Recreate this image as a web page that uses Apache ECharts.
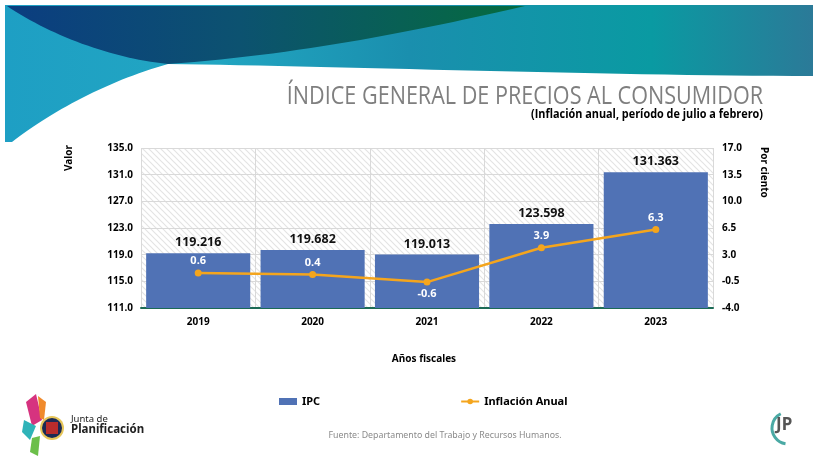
<!DOCTYPE html>
<html>
<head>
<meta charset="utf-8">
<script src="https://cdn.jsdelivr.net/npm/echarts@6/dist/echarts.min.js"></script>
<style>
  html, body { margin: 0; padding: 0; background: #fff; }
  #main { width: 813px; height: 459px; }
</style>
</head>
<body>
<div id="main"></div>
<script>
// datos del grafico
var years = ['2019', '2020', '2021', '2022', '2023'];
var ipc = [119.216, 119.682, 119.013, 123.598, 131.363];
var inflacion = [0.6, 0.4, -0.6, 3.9, 6.3];

var font = "'Noto Sans', 'DejaVu Sans', sans-serif";
var narrow = "'Liberation Sans Narrow', 'Open Sans', sans-serif";

function grad(stops) {
  return { type: 'linear', x: 0, y: 0, x2: 1, y2: 0, colorStops: stops };
}

// curva bezier cubica -> lista de puntos (para las franjas decorativas)
function bez(p0, p1, p2, p3) {
  var out = [];
  for (var i = 0; i <= 30; i++) {
    var t = i / 30, u = 1 - t;
    out.push([
      u * u * u * p0[0] + 3 * u * u * t * p1[0] + 3 * u * t * t * p2[0] + t * t * t * p3[0],
      u * u * u * p0[1] + 3 * u * u * t * p1[1] + 3 * u * t * t * p2[1] + t * t * t * p3[1]
    ]);
  }
  return out;
}

var tealPts = [[5, 5], [813, 5]]
  .concat(bez([813, 76], [620, 76], [330, 66], [168, 64]))
  .concat(bez([168, 64], [110, 80], [50, 112], [12, 142]))
  .concat([[5, 142]]);
var darkPts = bez([7, 6], [50, 35], [110, 58], [168, 64])
  .concat(bez([168, 64], [300, 55], [430, 28], [525, 6]));

// fondo rayado del area del grafico
var hatch = document.createElement('canvas');
hatch.width = 6;
hatch.height = 6;
var hc = hatch.getContext('2d');
hc.fillStyle = '#ffffff';
hc.fillRect(0, 0, 6, 6);
hc.strokeStyle = '#e4e4e4';
hc.lineWidth = 1.2;
hc.beginPath();
hc.moveTo(-1, -1); hc.lineTo(7, 7);
hc.moveTo(-7, -1); hc.lineTo(1, 7);
hc.moveTo(5, -1); hc.lineTo(13, 7);
hc.stroke();

var chart = echarts.init(document.getElementById('main'));
chart.setOption({
  backgroundColor: '#ffffff',
  animation: false,
  textStyle: { fontFamily: font },
  grid: {
    left: 141, right: 100, top: 148, bottom: 151,
    show: true,
    borderWidth: 0,
    backgroundColor: { image: hatch, repeat: 'repeat' }
  },
  legend: {
    left: 274, top: 391,
    itemGap: 140,
    itemWidth: 18,
    itemHeight: 7,
    textStyle: { fontFamily: font, fontWeight: 'bold', fontSize: 11, color: '#000' },
    data: [
      { name: 'IPC', icon: 'rect' },
      { name: 'Inflación Anual' }
    ]
  },
  xAxis: {
    type: 'category',
    data: years,
    axisLine: { onZero: false, lineStyle: { color: '#1b6a55', width: 2 } },
    axisTick: { show: false },
    axisLabel: { fontWeight: 'bold', fontSize: 10, color: '#000', margin: 9 },
    splitLine: { show: true, lineStyle: { color: '#d9d9d9', width: 1 } }
  },
  yAxis: [{
    type: 'value',
    min: 111, max: 135, interval: 4,
    axisLine: { show: false },
    axisTick: { show: false },
    axisLabel: {
      fontWeight: 'bold', fontSize: 10, color: '#000', margin: 8,
      formatter: function (v) { return v.toFixed(1); }
    },
    splitLine: { lineStyle: { color: '#d9d9d9', width: 1 } }
  }, {
    type: 'value',
    min: -4, max: 17, interval: 3.5,
    axisLine: { show: false },
    axisTick: { show: false },
    axisLabel: {
      fontWeight: 'bold', fontSize: 10, color: '#000', margin: 9,
      formatter: function (v) { return v.toFixed(1); }
    },
    splitLine: { show: false }
  }],
  series: [{
    name: 'IPC',
    type: 'bar',
    data: ipc,
    barCategoryGap: '9%',
    itemStyle: { color: '#5072b5' },
    label: {
      show: true, position: 'top', distance: 4,
      fontWeight: 'bold', fontSize: 12.5, color: '#111',
      formatter: function (p) { return p.value.toFixed(3); }
    }
  }, {
    name: 'Inflación Anual',
    type: 'line',
    yAxisIndex: 1,
    data: inflacion.map(function (v) {
      return {
        value: v,
        label: { position: v < 0 ? 'bottom' : 'top' }
      };
    }),
    symbol: 'circle',
    symbolSize: 7,
    lineStyle: { color: '#f4a51d', width: 2.5 },
    itemStyle: { color: '#f4a51d' },
    label: {
      show: true, distance: 3,
      fontWeight: 'bold', fontSize: 11, color: '#ffffff',
      formatter: function (p) { return p.value.toFixed(1); }
    }
  }],
  graphic: [
    // franja superior
    {
      type: 'polygon', z: 0,
      shape: { points: tealPts },
      style: {
        fill: grad([
          { offset: 0, color: '#1e9fc4' },
          { offset: 0.25, color: '#22a6c2' },
          { offset: 0.5, color: '#1a8fae' },
          { offset: 0.8, color: '#0a9aa2' },
          { offset: 1, color: '#2b7a98' }
        ])
      }
    },
    {
      type: 'polygon', z: 1,
      shape: { points: darkPts },
      style: {
        fill: grad([
          { offset: 0, color: '#0b3d80' },
          { offset: 0.45, color: '#0c5270' },
          { offset: 1, color: '#056b3e' }
        ])
      }
    },
    // titulos
    {
      type: 'text', x: 763, y: 84, scaleX: 0.83,
      style: { text: 'ÍNDICE GENERAL DE PRECIOS AL CONSUMIDOR', fill: '#7f7f7f', fontSize: 26, fontFamily: narrow, align: 'right' }
    },
    {
      type: 'text', x: 763, y: 108, scaleX: 0.87,
      style: { text: '(Inflación anual, período de julio a febrero)', fill: '#000', fontSize: 12.5, fontWeight: 'bold', fontFamily: narrow, align: 'right' }
    },
    // nombres de ejes
    {
      type: 'text', x: 64, y: 171, rotation: Math.PI / 2,
      style: { text: 'Valor', fill: '#000', fontSize: 10, fontWeight: 'bold', fontFamily: font }
    },
    {
      type: 'text', x: 769, y: 147, rotation: -Math.PI / 2,
      style: { text: 'Por ciento', fill: '#000', fontSize: 10, fontWeight: 'bold', fontFamily: font }
    },
    {
      type: 'text', x: 424, y: 354,
      style: { text: 'Años fiscales', fill: '#000', fontSize: 10, fontWeight: 'bold', fontFamily: font, align: 'center' }
    },
    // fuente
    {
      type: 'text', x: 445, y: 431,
      style: { text: 'Fuente: Departamento del Trabajo y Recursos Humanos.', fill: '#8a8a8a', fontSize: 8.8, fontFamily: font, align: 'center' }
    },
    // logo Junta de Planificación
    { type: 'polygon', shape: { points: [[26, 402], [36, 394], [42, 420], [32, 426]] }, style: { fill: '#d6337f' } },
    { type: 'polygon', shape: { points: [[38, 396], [46, 402], [44, 420], [40, 418]] }, style: { fill: '#f08a2c' } },
    { type: 'polygon', shape: { points: [[24, 420], [36, 426], [30, 440], [22, 432]] }, style: { fill: '#2fb3b8' } },
    { type: 'polygon', shape: { points: [[32, 438], [40, 436], [38, 456], [30, 452]] }, style: { fill: '#6cbf4a' } },
    { type: 'circle', shape: { cx: 52, cy: 428, r: 12 }, style: { fill: '#e7c65a' } },
    { type: 'circle', shape: { cx: 52, cy: 428, r: 10 }, style: { fill: '#1b2a55' } },
    { type: 'rect', shape: { x: 46, y: 422, width: 12, height: 12 }, style: { fill: '#b82c2c' } },
    {
      type: 'text', x: 71, y: 414,
      style: { text: 'Junta de', fill: '#222', fontSize: 9.5, fontFamily: font }
    },
    {
      type: 'text', x: 71, y: 424,
      style: { text: 'Planificación', fill: '#222', fontSize: 11.5, fontWeight: 'bold', fontFamily: font }
    },
    // logo JP
    {
      type: 'arc', shape: { cx: 788, cy: 428, r: 16, startAngle: Math.PI * 0.55, endAngle: Math.PI * 1.35 },
      style: { stroke: '#4aa9a4', lineWidth: 3, fill: null }
    },
    {
      type: 'text', x: 776, y: 417,
      style: { text: 'JP', fill: '#555', fontSize: 17, fontWeight: 'bold', fontFamily: font }
    }
  ]
});
</script>
</body>
</html>
